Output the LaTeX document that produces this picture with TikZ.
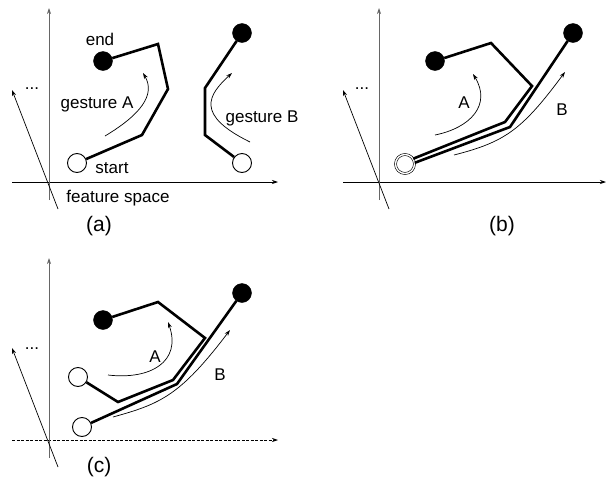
\documentclass[tikz,border=0pt]{standalone}
\usepackage{fontspec}
\setmainfont{Liberation Sans}
\usetikzlibrary{arrows.meta}

\begin{document}
\begin{tikzpicture}[
    x=1pt, y=-1pt,
    >={Stealth[length=6pt, width=4pt]},
    axisline/.style={->, line width=0.7pt},
    valaxis/.style={->, line width=0.7pt, draw=black!60},
    gestline/.style={line width=2.6pt},
    motion/.style={->, line width=0.7pt},
    startpt/.style={circle, draw, fill=white, line width=0.9pt, minimum size=19pt, inner sep=0pt},
    startboth/.style={circle, draw, fill=white, line width=0.6pt, double, double distance=1.4pt, minimum size=19pt, inner sep=0pt},
    endpt/.style={circle, draw, fill=black, minimum size=19pt, inner sep=0pt},
    lbl/.style={anchor=base, font=\fontsize{17}{19}\selectfont},
    caption/.style={anchor=base, font=\fontsize{21}{23}\selectfont},
]
\useasboundingbox (0,0) rectangle (606,493);

% ---------- (a) ----------
\coordinate (a-xl) at (12,182);
\coordinate (a-xr) at (278,182);
\coordinate (a-yb) at (49,200);
\coordinate (a-yt) at (49,8);
\coordinate (a-d0) at (58,209);
\coordinate (a-d1) at (12,90);
\draw[axisline] (a-xl) -- (a-xr);
\draw[valaxis] (a-yb) -- (a-yt);
\draw[axisline] (a-d0) -- (a-d1);
\node[lbl] (a-dots) at (32,89) {...};

% gesture A
\node[startpt] (a-sA) at (77,163) {};
\node[endpt] (a-eA) at (103,61) {};
\coordinate (a-A1) at (142,135);
\coordinate (a-A2) at (168,89);
\coordinate (a-A3) at (158,44);
\draw[gestline] (a-sA) -- (a-A1) -- (a-A2) -- (a-A3) -- (a-eA);

% gesture B
\node[startpt] (a-sB) at (242,163) {};
\node[endpt] (a-eB) at (242,33) {};
\coordinate (a-B1) at (205,135);
\coordinate (a-B2) at (205,88);
\draw[gestline] (a-sB) -- (a-B1) -- (a-B2) -- (a-eB);

% direction arrows
\coordinate (a-mA0) at (105,136);
\coordinate (a-mA1) at (143,73);
\draw[motion] (a-mA0) .. controls (140,115) and (156,95) .. (a-mA1);
\coordinate (a-mB0) at (250,142);
\coordinate (a-mB1) at (232,73);
\draw[motion] (a-mB0) .. controls (195,115) and (208,95) .. (a-mB1);

\node[lbl] (a-end) at (100,45) {end};
\node[lbl] (a-start) at (112,173) {start};
\node[lbl] (a-gA) at (97,108) {gesture A};
\node[lbl] (a-gB) at (262,122) {gesture B};
\node[lbl] (a-fs) at (118,202) {feature space};
\node[caption] (a-cap) at (99,231) {(a)};

% ---------- (b) ----------
\coordinate (b-xl) at (343,182);
\coordinate (b-xr) at (606,182);
\coordinate (b-yb) at (379,200);
\coordinate (b-yt) at (379,8);
\coordinate (b-d0) at (389,209);
\coordinate (b-d1) at (343,90);
\draw[axisline] (b-xl) -- (b-xr);
\draw[valaxis] (b-yb) -- (b-yt);
\draw[axisline] (b-d0) -- (b-d1);
\node[lbl] (b-dots) at (362,89) {...};

\node[startboth] (b-s) at (405,164) {};
\node[endpt] (b-eA) at (435,61) {};
\node[endpt] (b-eB) at (573,33) {};
\coordinate (b-A1) at (505,122);
\coordinate (b-A2) at (532,86);
\coordinate (b-A3) at (491,43);
\coordinate (b-B1) at (510,127);
\draw[gestline] (b-s.33) -- (b-A1) -- (b-A2) -- (b-A3) -- (b-eA);
\draw[gestline] (b-s.7) -- (b-B1) -- (b-eB);

\coordinate (b-mA0) at (435,135);
\coordinate (b-mA1) at (473,74);
\draw[motion] (b-mA0) .. controls (470,128) and (492,105) .. (b-mA1);
\coordinate (b-mB0) at (454,155);
\coordinate (b-mB1) at (565,72);
\draw[motion] (b-mB0) .. controls (505,142) and (522,130) .. (b-mB1);

\node[lbl] (b-A) at (464,108) {A};
\node[lbl] (b-B) at (562,115) {B};
\node[caption] (b-cap) at (502,231) {(b)};

% ---------- (c) ----------
\coordinate (c-xl) at (12,440);
\coordinate (c-xr) at (278,440);
\coordinate (c-yb) at (49,458);
\coordinate (c-yt) at (49,258);
\coordinate (c-d0) at (58,467);
\coordinate (c-d1) at (12,348);
\draw[axisline, dash pattern=on 3pt off 1.5pt] (c-xl) -- (c-xr);
\draw[valaxis] (c-yb) -- (c-yt);
\draw[axisline] (c-d0) -- (c-d1);
\node[lbl] (c-dots) at (32,349) {...};

\node[startpt] (c-sA) at (78,377) {};
\node[startpt] (c-sB) at (82,427) {};
\node[endpt] (c-eA) at (103,320) {};
\node[endpt] (c-eB) at (242,293) {};
\coordinate (c-A1) at (118,402);
\coordinate (c-A2) at (173,380);
\coordinate (c-A3) at (205,338);
\coordinate (c-A4) at (158,302);
\coordinate (c-B1) at (177,384);
\draw[gestline] (c-sA) -- (c-A1) -- (c-A2) -- (c-A3) -- (c-A4) -- (c-eA);
\draw[gestline] (c-sB) -- (c-B1) -- (c-eB);

\coordinate (c-mA0) at (108,375);
\coordinate (c-mA1) at (168,322);
\draw[motion] (c-mA0) .. controls (150,380) and (182,362) .. (c-mA1);
\coordinate (c-mB0) at (113,417);
\coordinate (c-mB1) at (230,330);
\draw[motion] (c-mB0) .. controls (160,404) and (180,396) .. (c-mB1);

\node[lbl] (c-A) at (155,362) {A};
\node[lbl] (c-B) at (220,380) {B};
\node[caption] (c-cap) at (99,472) {(c)};
\end{tikzpicture}
\end{document}
